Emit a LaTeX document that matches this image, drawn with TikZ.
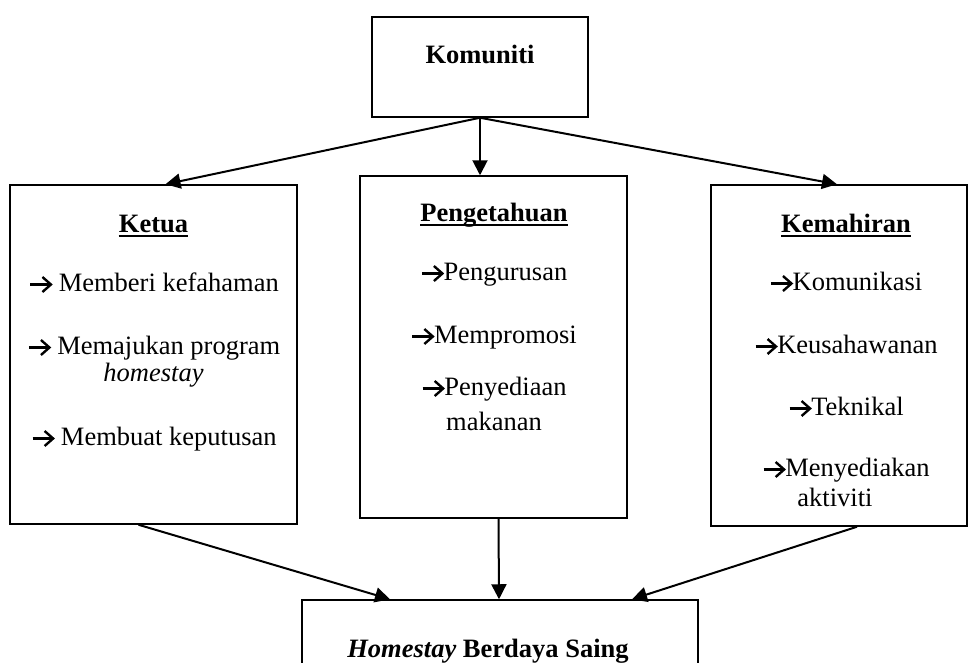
\documentclass[tikz,border=0pt]{standalone}
\usepackage{fontspec}
\setmainfont{Liberation Serif}
\usepackage{tikz}
\usetikzlibrary{positioning, arrows.meta}

\newcommand\rarr{\tikz[baseline=0pt, line width=2.4pt]{\draw (0pt,6.5pt) -- (20pt,6.5pt); \draw[line join=miter] (12pt,14pt) -- (20.5pt,6.5pt) -- (12pt,-1pt);}}

\tikzset{
	box/.style={draw, line width=1.5pt, inner sep=0pt},
	txt/.style={font=\fontsize{26.5}{30}\selectfont, inner sep=0pt, anchor=base},
	ttl/.style={txt, font=\fontsize{26.5}{30}\selectfont\bfseries},
	uline/.style={line width=1.8pt},
	arr/.style={line width=2pt, -{Triangle[length=15pt, width=15pt]}}
}

\begin{document}
\begin{tikzpicture}[x=1pt, y=-1pt]
		\clip (0,0) rectangle (970,662);
		\fill[white] (0,0) rectangle (970,662);
		
		\node[box, minimum width=216pt, minimum height=100pt] (kom) at (480,67) {};
		\node[box, minimum width=287pt, minimum height=339pt] (ketua) at (153.5,354.5) {};
		\node[box, minimum width=267pt, minimum height=342pt] (peng) at (493.5,347) {};
		\node[box, minimum width=256pt, minimum height=341pt] (kemah) at (839,355.5) {};
		\node[box, minimum width=396pt, minimum height=100pt] (hbs) at (500,650) {};
		
		\node[ttl] (t-kom) at (480,63) {Komuniti};
		
		\node[ttl] (t-ketua) at (153.5,232) {Ketua};
		\node[txt] (ketua-1) at (154,291) {\rarr\ Memberi kefahaman};
		\node[txt] (ketua-2) at (154,354) {\rarr\ Memajukan program};
		\node[txt] (ketua-2b) at (153.5,381) {\textit{homestay}};
		\node[txt] (ketua-3) at (154,445) {\rarr\ Membuat keputusan};
		
		\node[ttl] (t-peng) at (494,221) {Pengetahuan};
		\node[txt] (peng-1) at (494,280) {\rarr Pengurusan};
		\node[txt] (peng-2) at (494,343) {\rarr Mempromosi};
		\node[txt] (peng-3) at (494,395) {\rarr Penyediaan};
		\node[txt] (peng-3b) at (494,430) {makanan};
		
		\node[ttl] (t-kemah) at (846,232) {Kemahiran};
		\node[txt] (kemah-1) at (846,290) {\rarr Komunikasi};
		\node[txt] (kemah-2) at (846,353) {\rarr Keusahawanan};
		\node[txt] (kemah-3) at (846,415) {\rarr Teknikal};
		\node[txt] (kemah-4) at (846,476) {\rarr Menyediakan};
		\node[txt] (kemah-4b) at (835,506) {aktiviti};
		
		\node[ttl] (t-hbs) at (488,657) {\textit{Homestay} Berdaya Saing};
		
		\draw[uline] ([yshift=-4pt]t-ketua.base west) -- ([yshift=-4pt]t-ketua.base east);
		\draw[uline] ([yshift=-4pt]t-peng.base west) -- ([yshift=-4pt]t-peng.base east);
		\draw[uline] ([yshift=-4pt]t-kemah.base west) -- ([yshift=-4pt]t-kemah.base east);
		
		\draw[arr] (kom.south) -- ([xshift=12pt]ketua.north);
		\draw[arr] (kom.south) -- (kom.south |- peng.north);
		\draw[arr] (kom.south) -- ([xshift=-2pt]kemah.north);
		
		\draw[arr] ([xshift=-15pt]ketua.south) -- ([xshift=-110pt]hbs.north);
		\draw[arr] ([xshift=5pt]peng.south) -- ([xshift=-1pt]hbs.north);
		\draw[arr] ([xshift=18pt]kemah.south) -- ([xshift=132pt]hbs.north);
	\end{tikzpicture}
\end{document}
